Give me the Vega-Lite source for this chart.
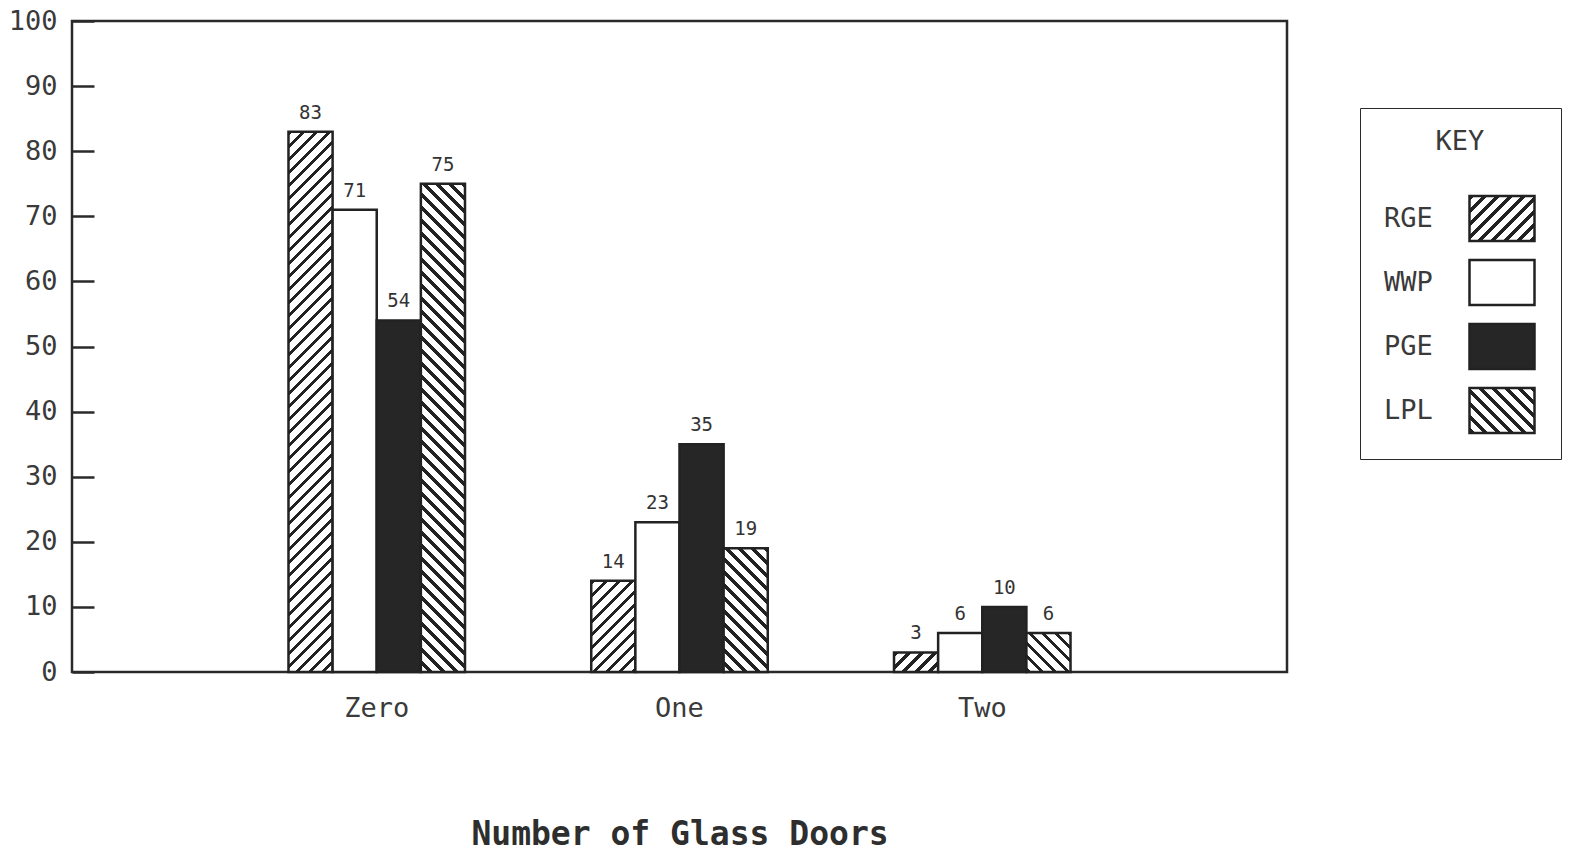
{
"$schema": "https://vega.github.io/schema/vega-lite/v6.json",
"autosize": {"type": "none"},
"width": 1215,
"height": 651,
"padding": {"left": 72, "top": 21, "right": 285, "bottom": 187},
"background": "white",
"params": [{"name": "hatch", "value": [
{"offset":0,"color":"#222"},{"offset":0.0035,"color":"#222"},{"offset":0.0035,"color":"#fff"},{"offset":0.01,"color":"#fff"},
{"offset":0.01,"color":"#222"},{"offset":0.0135,"color":"#222"},{"offset":0.0135,"color":"#fff"},{"offset":0.02,"color":"#fff"},
{"offset":0.02,"color":"#222"},{"offset":0.0235,"color":"#222"},{"offset":0.0235,"color":"#fff"},{"offset":0.03,"color":"#fff"},
{"offset":0.03,"color":"#222"},{"offset":0.0335,"color":"#222"},{"offset":0.0335,"color":"#fff"},{"offset":0.04,"color":"#fff"},
{"offset":0.04,"color":"#222"},{"offset":0.0435,"color":"#222"},{"offset":0.0435,"color":"#fff"},{"offset":0.05,"color":"#fff"},
{"offset":0.05,"color":"#222"},{"offset":0.0535,"color":"#222"},{"offset":0.0535,"color":"#fff"},{"offset":0.06,"color":"#fff"},
{"offset":0.06,"color":"#222"},{"offset":0.0635,"color":"#222"},{"offset":0.0635,"color":"#fff"},{"offset":0.07,"color":"#fff"},
{"offset":0.07,"color":"#222"},{"offset":0.0735,"color":"#222"},{"offset":0.0735,"color":"#fff"},{"offset":0.08,"color":"#fff"},
{"offset":0.08,"color":"#222"},{"offset":0.0835,"color":"#222"},{"offset":0.0835,"color":"#fff"},{"offset":0.09,"color":"#fff"},
{"offset":0.09,"color":"#222"},{"offset":0.0935,"color":"#222"},{"offset":0.0935,"color":"#fff"},{"offset":0.10,"color":"#fff"},
{"offset":0.10,"color":"#222"},{"offset":0.1035,"color":"#222"},{"offset":0.1035,"color":"#fff"},{"offset":0.11,"color":"#fff"},
{"offset":0.11,"color":"#222"},{"offset":0.1135,"color":"#222"},{"offset":0.1135,"color":"#fff"},{"offset":0.12,"color":"#fff"},
{"offset":0.12,"color":"#222"},{"offset":0.1235,"color":"#222"},{"offset":0.1235,"color":"#fff"},{"offset":0.13,"color":"#fff"},
{"offset":0.13,"color":"#222"},{"offset":0.1335,"color":"#222"},{"offset":0.1335,"color":"#fff"},{"offset":0.14,"color":"#fff"},
{"offset":0.14,"color":"#222"},{"offset":0.1435,"color":"#222"},{"offset":0.1435,"color":"#fff"},{"offset":0.15,"color":"#fff"},
{"offset":0.15,"color":"#222"},{"offset":0.1535,"color":"#222"},{"offset":0.1535,"color":"#fff"},{"offset":0.16,"color":"#fff"},
{"offset":0.16,"color":"#222"},{"offset":0.1635,"color":"#222"},{"offset":0.1635,"color":"#fff"},{"offset":0.17,"color":"#fff"},
{"offset":0.17,"color":"#222"},{"offset":0.1735,"color":"#222"},{"offset":0.1735,"color":"#fff"},{"offset":0.18,"color":"#fff"},
{"offset":0.18,"color":"#222"},{"offset":0.1835,"color":"#222"},{"offset":0.1835,"color":"#fff"},{"offset":0.19,"color":"#fff"},
{"offset":0.19,"color":"#222"},{"offset":0.1935,"color":"#222"},{"offset":0.1935,"color":"#fff"},{"offset":0.20,"color":"#fff"},
{"offset":0.20,"color":"#222"},{"offset":0.2035,"color":"#222"},{"offset":0.2035,"color":"#fff"},{"offset":0.21,"color":"#fff"},
{"offset":0.21,"color":"#222"},{"offset":0.2135,"color":"#222"},{"offset":0.2135,"color":"#fff"},{"offset":0.22,"color":"#fff"},
{"offset":0.22,"color":"#222"},{"offset":0.2235,"color":"#222"},{"offset":0.2235,"color":"#fff"},{"offset":0.23,"color":"#fff"},
{"offset":0.23,"color":"#222"},{"offset":0.2335,"color":"#222"},{"offset":0.2335,"color":"#fff"},{"offset":0.24,"color":"#fff"},
{"offset":0.24,"color":"#222"},{"offset":0.2435,"color":"#222"},{"offset":0.2435,"color":"#fff"},{"offset":0.25,"color":"#fff"},
{"offset":0.25,"color":"#222"},{"offset":0.2535,"color":"#222"},{"offset":0.2535,"color":"#fff"},{"offset":0.26,"color":"#fff"},
{"offset":0.26,"color":"#222"},{"offset":0.2635,"color":"#222"},{"offset":0.2635,"color":"#fff"},{"offset":0.27,"color":"#fff"},
{"offset":0.27,"color":"#222"},{"offset":0.2735,"color":"#222"},{"offset":0.2735,"color":"#fff"},{"offset":0.28,"color":"#fff"},
{"offset":0.28,"color":"#222"},{"offset":0.2835,"color":"#222"},{"offset":0.2835,"color":"#fff"},{"offset":0.29,"color":"#fff"},
{"offset":0.29,"color":"#222"},{"offset":0.2935,"color":"#222"},{"offset":0.2935,"color":"#fff"},{"offset":0.30,"color":"#fff"},
{"offset":0.30,"color":"#222"},{"offset":0.3035,"color":"#222"},{"offset":0.3035,"color":"#fff"},{"offset":0.31,"color":"#fff"},
{"offset":0.31,"color":"#222"},{"offset":0.3135,"color":"#222"},{"offset":0.3135,"color":"#fff"},{"offset":0.32,"color":"#fff"},
{"offset":0.32,"color":"#222"},{"offset":0.3235,"color":"#222"},{"offset":0.3235,"color":"#fff"},{"offset":0.33,"color":"#fff"},
{"offset":0.33,"color":"#222"},{"offset":0.3335,"color":"#222"},{"offset":0.3335,"color":"#fff"},{"offset":0.34,"color":"#fff"},
{"offset":0.34,"color":"#222"},{"offset":0.3435,"color":"#222"},{"offset":0.3435,"color":"#fff"},{"offset":0.35,"color":"#fff"},
{"offset":0.35,"color":"#222"},{"offset":0.3535,"color":"#222"},{"offset":0.3535,"color":"#fff"},{"offset":0.36,"color":"#fff"},
{"offset":0.36,"color":"#222"},{"offset":0.3635,"color":"#222"},{"offset":0.3635,"color":"#fff"},{"offset":0.37,"color":"#fff"},
{"offset":0.37,"color":"#222"},{"offset":0.3735,"color":"#222"},{"offset":0.3735,"color":"#fff"},{"offset":0.38,"color":"#fff"},
{"offset":0.38,"color":"#222"},{"offset":0.3835,"color":"#222"},{"offset":0.3835,"color":"#fff"},{"offset":0.39,"color":"#fff"},
{"offset":0.39,"color":"#222"},{"offset":0.3935,"color":"#222"},{"offset":0.3935,"color":"#fff"},{"offset":0.40,"color":"#fff"},
{"offset":0.40,"color":"#222"},{"offset":0.4035,"color":"#222"},{"offset":0.4035,"color":"#fff"},{"offset":0.41,"color":"#fff"},
{"offset":0.41,"color":"#222"},{"offset":0.4135,"color":"#222"},{"offset":0.4135,"color":"#fff"},{"offset":0.42,"color":"#fff"},
{"offset":0.42,"color":"#222"},{"offset":0.4235,"color":"#222"},{"offset":0.4235,"color":"#fff"},{"offset":0.43,"color":"#fff"},
{"offset":0.43,"color":"#222"},{"offset":0.4335,"color":"#222"},{"offset":0.4335,"color":"#fff"},{"offset":0.44,"color":"#fff"},
{"offset":0.44,"color":"#222"},{"offset":0.4435,"color":"#222"},{"offset":0.4435,"color":"#fff"},{"offset":0.45,"color":"#fff"},
{"offset":0.45,"color":"#222"},{"offset":0.4535,"color":"#222"},{"offset":0.4535,"color":"#fff"},{"offset":0.46,"color":"#fff"},
{"offset":0.46,"color":"#222"},{"offset":0.4635,"color":"#222"},{"offset":0.4635,"color":"#fff"},{"offset":0.47,"color":"#fff"},
{"offset":0.47,"color":"#222"},{"offset":0.4735,"color":"#222"},{"offset":0.4735,"color":"#fff"},{"offset":0.48,"color":"#fff"},
{"offset":0.48,"color":"#222"},{"offset":0.4835,"color":"#222"},{"offset":0.4835,"color":"#fff"},{"offset":0.49,"color":"#fff"},
{"offset":0.49,"color":"#222"},{"offset":0.4935,"color":"#222"},{"offset":0.4935,"color":"#fff"},{"offset":0.50,"color":"#fff"}
]}],
"data": {"values": [
{"doors": "Zero", "grp": "RGE", "pct": 83},
{"doors": "Zero", "grp": "WWP", "pct": 71},
{"doors": "Zero", "grp": "PGE", "pct": 54},
{"doors": "Zero", "grp": "LPL", "pct": 75},
{"doors": "One", "grp": "RGE", "pct": 14},
{"doors": "One", "grp": "WWP", "pct": 23},
{"doors": "One", "grp": "PGE", "pct": 35},
{"doors": "One", "grp": "LPL", "pct": 19},
{"doors": "Two", "grp": "RGE", "pct": 3},
{"doors": "Two", "grp": "WWP", "pct": 6},
{"doors": "Two", "grp": "PGE", "pct": 10},
{"doors": "Two", "grp": "LPL", "pct": 6}
]},
"encoding": {
  "x": {"field": "doors", "type": "nominal", "sort": ["Zero", "One", "Two"],
        "scale": {"paddingInner": 0.417, "paddingOuter": 0.715},
        "axis": {"title": "Number of Glass Doors", "ticks": false, "domain": false, "labelAngle": 0,
                 "labelFont": "DejaVu Sans Mono", "labelFontSize": 27, "labelColor": "#3a3a3a", "labelPadding": 23,
                 "titleFont": "DejaVu Sans Mono", "titleFontWeight": "bold", "titleFontSize": 33, "titleColor": "#2e2e2e", "titlePadding": 97}},
  "xOffset": {"field": "grp", "type": "nominal", "sort": ["RGE", "WWP", "PGE", "LPL"], "scale": {"paddingInner": 0, "paddingOuter": 0}},
  "y": {"field": "pct", "type": "quantitative", "stack": null,
        "scale": {"domain": [0, 100], "nice": false, "zero": true},
        "axis": {"title": null, "values": [0, 10, 20, 30, 40, 50, 60, 70, 80, 90, 100], "grid": false, "domain": false,
                 "tickSize": -22, "tickWidth": 2.5, "tickColor": "#2a2a2a",
                 "labelFont": "DejaVu Sans Mono", "labelFontSize": 27, "labelColor": "#3a3a3a", "labelPadding": 37}}
},
"layer": [
  {
    "mark": {"type": "bar", "strokeWidth": 2.5,
      "fill": {"expr": "(datum.grp||datum.value)==='RGE' ? (isValid(datum.pct) ? {gradient:'linear', x1:0, y1:0, x2:((1+((scale('y',0)-scale('y',datum.pct))/bandwidth('xOffset')))/(((bandwidth('xOffset')+(scale('y',0)-scale('y',datum.pct)))/1300)*(1+((scale('y',0)-scale('y',datum.pct))/bandwidth('xOffset'))*((scale('y',0)-scale('y',datum.pct))/bandwidth('xOffset'))))), y2:((1+((scale('y',0)-scale('y',datum.pct))/bandwidth('xOffset')))/(((bandwidth('xOffset')+(scale('y',0)-scale('y',datum.pct)))/1300)*(1+((scale('y',0)-scale('y',datum.pct))/bandwidth('xOffset'))*((scale('y',0)-scale('y',datum.pct))/bandwidth('xOffset')))))*((scale('y',0)-scale('y',datum.pct))/bandwidth('xOffset')), stops:hatch} : {gradient:'linear', x1:0, y1:0, x2:13.52, y2:9.36, stops:hatch}) : (datum.grp||datum.value)==='WWP' ? '#ffffff' : (datum.grp||datum.value)==='PGE' ? '#262626' : (isValid(datum.pct) ? {gradient:'linear', x1:1, y1:0, x2:1-((1+((scale('y',0)-scale('y',datum.pct))/bandwidth('xOffset')))/(((bandwidth('xOffset')+(scale('y',0)-scale('y',datum.pct)))/1300)*(1+((scale('y',0)-scale('y',datum.pct))/bandwidth('xOffset'))*((scale('y',0)-scale('y',datum.pct))/bandwidth('xOffset'))))), y2:((1+((scale('y',0)-scale('y',datum.pct))/bandwidth('xOffset')))/(((bandwidth('xOffset')+(scale('y',0)-scale('y',datum.pct)))/1300)*(1+((scale('y',0)-scale('y',datum.pct))/bandwidth('xOffset'))*((scale('y',0)-scale('y',datum.pct))/bandwidth('xOffset')))))*((scale('y',0)-scale('y',datum.pct))/bandwidth('xOffset')), stops:hatch} : {gradient:'linear', x1:1, y1:0, x2:-12.52, y2:9.36, stops:hatch})"}
    },
    "encoding": {
      "stroke": {"field": "grp", "type": "nominal",
        "scale": {"domain": ["RGE", "WWP", "PGE", "LPL"], "range": ["#222222", "#222222", "#222222", "#222222"]},
        "legend": {"orient": "none", "legendX": 1288, "legendY": 87, "title": "KEY",
          "titleAnchor": "middle", "titleFont": "DejaVu Sans Mono", "titleFontSize": 27, "titleFontWeight": "normal", "titleColor": "#3a3a3a", "titlePadding": 41,
          "symbolType": "M3.35,-1.125H6.6V1.125H3.35Z", "symbolSize": 1600, "symbolStrokeWidth": 2.5, "symbolStrokeColor": "#222222", "symbolOpacity": 1,
          "labelFont": "DejaVu Sans Mono", "labelFontSize": 27, "labelColor": "#3a3a3a", "labelOffset": -40,
          "rowPadding": 9, "padding": 21, "strokeColor": "#2a2a2a"}}
    }
  },
  {
    "mark": {"type": "text", "baseline": "bottom", "dy": -9, "font": "DejaVu Sans Mono", "fontSize": 19, "color": "#333333"},
    "encoding": {"text": {"field": "pct", "type": "quantitative"}}
  }
],
"config": {
  "view": {"stroke": "#2a2a2a", "strokeWidth": 2.5},
  "axis": {"grid": false}
}
}
